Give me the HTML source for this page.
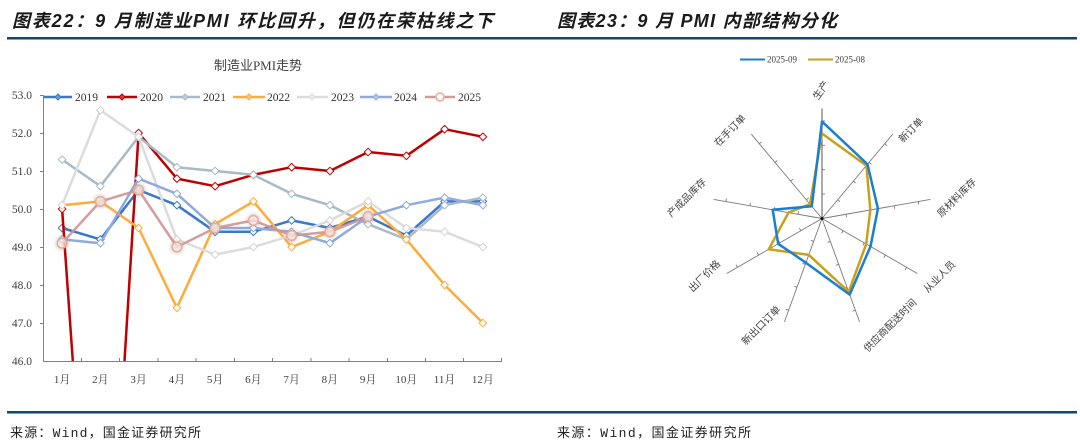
<!DOCTYPE html>
<html><head><meta charset="utf-8"><style>
html,body{margin:0;padding:0;background:#fff;width:1080px;height:446px;overflow:hidden;}
svg{display:block;overflow:hidden;}
</style></head><body>
<svg width="1080" height="446" viewBox="0 0 1080 446" xmlns="http://www.w3.org/2000/svg">
<defs>
<path id="dm" d="M0,-3.8 L3.8,0 L0,3.8 L-3.8,0Z"/>
<path id="dl" d="M0,-3 L3,0 L0,3 L-3,0Z"/>
<filter id="sh" x="-1" y="-1" width="3" height="3"><feGaussianBlur stdDeviation="2"/></filter>
</defs>
<rect width="1080" height="446" fill="#fff"/>

<!-- titles -->
<text x="12" y="27" font-family="Liberation Sans, Noto Sans CJK SC, sans-serif" font-size="18" font-weight="bold" font-style="italic" fill="#1a1a1a" textLength="481" lengthAdjust="spacing">图表22：9 月制造业PMI 环比回升，但仍在荣枯线之下</text>
<text x="557" y="27" font-family="Liberation Sans, Noto Sans CJK SC, sans-serif" font-size="18" font-weight="bold" font-style="italic" fill="#1a1a1a" textLength="280" lengthAdjust="spacing">图表23：9 月 PMI 内部结构分化</text>
<rect x="7" y="37" width="1070" height="2" fill="#0f4a70"/>
<rect x="7" y="39" width="1070" height="1" fill="#7aa2bf"/>

<rect x="7" y="411" width="1070" height="2" fill="#0f4a70"/>
<rect x="7" y="413" width="1070" height="1" fill="#7aa2bf"/>
<text x="10" y="437" font-family="Liberation Mono, Noto Sans CJK SC, sans-serif" font-size="13" fill="#222" textLength="191" lengthAdjust="spacing">来源：Wind，国金证券研究所</text>
<text x="557" y="437" font-family="Liberation Mono, Noto Sans CJK SC, sans-serif" font-size="13" fill="#222" textLength="194" lengthAdjust="spacing">来源：Wind，国金证券研究所</text>

<!-- left chart -->
<text x="258" y="70" text-anchor="middle" font-family="Liberation Serif, Noto Sans CJK SC, sans-serif" font-size="13" fill="#404040">制造业PMI走势</text>

<g font-family="Liberation Serif, serif" font-size="11.5" fill="#404040" text-anchor="end">
<text x="32" y="99">53.0</text>
<text x="32" y="137">52.0</text>
<text x="32" y="175">51.0</text>
<text x="32" y="213">50.0</text>
<text x="32" y="251">49.0</text>
<text x="32" y="289">48.0</text>
<text x="32" y="327">47.0</text>
<text x="32" y="365">46.0</text>
</g>
<g stroke="#808080" stroke-width="1" fill="none">
<line x1="43.5" y1="95" x2="43.5" y2="361"/>
<line x1="43" y1="361.5" x2="502" y2="361.5"/>
<path d="M40,95.5H43.5M40,133.5H43.5M40,171.5H43.5M40,209.5H43.5M40,247.5H43.5M40,285.5H43.5M40,323.5H43.5"/>
<path d="M81.5,358V361M119.5,358V361M158,358V361M196,358V361M234.5,358V361M272.5,358V361M311,358V361M349,358V361M387.5,358V361M425.5,358V361M463.5,358V361M501.5,358V361"/>
</g>
<g font-family="Liberation Serif, Noto Serif CJK SC, serif" font-size="11" fill="#404040" text-anchor="middle">
<text x="62.1" y="383">1月</text><text x="100.4" y="383">2月</text><text x="138.6" y="383">3月</text>
<text x="176.9" y="383">4月</text><text x="215.1" y="383">5月</text><text x="253.4" y="383">6月</text>
<text x="291.6" y="383">7月</text><text x="329.9" y="383">8月</text><text x="368.1" y="383">9月</text>
<text x="406.4" y="383">10月</text><text x="444.6" y="383">11月</text><text x="482.9" y="383">12月</text>
</g>

<!-- legend -->
<g stroke-width="2.5" fill="none">
<line x1="44" y1="97" x2="72" y2="97" stroke="#3a78c8"/>
<line x1="107" y1="97" x2="137" y2="97" stroke="#c00000"/>
<line x1="170" y1="97" x2="200" y2="97" stroke="#a7bac6"/>
<line x1="233" y1="97" x2="265" y2="97" stroke="#ffab3a"/>
<line x1="297" y1="97" x2="328" y2="97" stroke="#dcdcdc"/>
<line x1="360" y1="97" x2="392" y2="97" stroke="#8faadc"/>
<line x1="425" y1="97" x2="455" y2="97" stroke="#d39a9a"/>
</g>
<use href="#dl" x="58" y="97" fill="#6c9ad6" stroke="#3a78c8"/>
<use href="#dl" x="122" y="97" fill="#d84040" stroke="#c00000"/>
<use href="#dl" x="185" y="97" fill="#c3d0d8" stroke="#a7bac6"/>
<use href="#dl" x="249" y="97" fill="#ffc880" stroke="#ffab3a"/>
<use href="#dl" x="312" y="97" fill="#eee" stroke="#dcdcdc"/>
<use href="#dl" x="376" y="97" fill="#b7c9ea" stroke="#8faadc"/>
<circle cx="440" cy="97" r="4" fill="#fff" stroke="#f0a890" stroke-width="1.5"/>
<g font-family="Liberation Serif, serif" font-size="11.5" fill="#333">
<text x="75" y="101">2019</text><text x="140" y="101">2020</text><text x="203" y="101">2021</text>
<text x="267" y="101">2022</text><text x="331" y="101">2023</text><text x="394" y="101">2024</text>
<text x="458" y="101">2025</text>
</g>

<g fill="none" stroke-width="2.5" stroke-linejoin="round">
<!-- 2019 -->
<polyline stroke="#3a78c8" points="62.1,228 100.4,239.4 138.6,190 176.9,205.2 215.1,231.8 253.4,231.8 291.6,220.4 329.9,228 368.1,216.6 406.4,235.6 444.6,201.4 482.9,201.4"/>
<g stroke="#3a78c8" stroke-width="1" fill="#fff">
<use href="#dm" x="62.1" y="228"/><use href="#dm" x="100.4" y="239.4"/><use href="#dm" x="138.6" y="190"/><use href="#dm" x="176.9" y="205.2"/><use href="#dm" x="215.1" y="231.8"/><use href="#dm" x="253.4" y="231.8"/><use href="#dm" x="291.6" y="220.4"/><use href="#dm" x="329.9" y="228"/><use href="#dm" x="368.1" y="216.6"/><use href="#dm" x="406.4" y="235.6"/><use href="#dm" x="444.6" y="201.4"/><use href="#dm" x="482.9" y="201.4"/>
</g>
<!-- 2020 -->
<polyline stroke="#c00000" points="62.1,209 72.8,361"/>
<polyline stroke="#c00000" points="124.5,361 138.6,133 176.9,178.6 215.1,186.2 253.4,174.8 291.6,167.2 329.9,171 368.1,152 406.4,155.8 444.6,129.2 482.9,136.8"/>
<g stroke="#c00000" stroke-width="1" fill="#fff">
<use href="#dm" x="62.1" y="209"/><use href="#dm" x="138.6" y="133"/><use href="#dm" x="176.9" y="178.6"/><use href="#dm" x="215.1" y="186.2"/><use href="#dm" x="253.4" y="174.8"/><use href="#dm" x="291.6" y="167.2"/><use href="#dm" x="329.9" y="171"/><use href="#dm" x="368.1" y="152"/><use href="#dm" x="406.4" y="155.8"/><use href="#dm" x="444.6" y="129.2"/><use href="#dm" x="482.9" y="136.8"/>
</g>
<!-- 2021 -->
<polyline stroke="#a7bac6" points="62.1,159.6 100.4,186.2 138.6,136.8 176.9,167.2 215.1,171 253.4,174.8 291.6,193.8 329.9,205.2 368.1,224.2 406.4,239.4 444.6,205.2 482.9,197.6"/>
<g stroke="#a7bac6" stroke-width="1" fill="#fff">
<use href="#dm" x="62.1" y="159.6"/><use href="#dm" x="100.4" y="186.2"/><use href="#dm" x="138.6" y="136.8"/><use href="#dm" x="176.9" y="167.2"/><use href="#dm" x="215.1" y="171"/><use href="#dm" x="253.4" y="174.8"/><use href="#dm" x="291.6" y="193.8"/><use href="#dm" x="329.9" y="205.2"/><use href="#dm" x="368.1" y="224.2"/><use href="#dm" x="406.4" y="239.4"/><use href="#dm" x="444.6" y="205.2"/><use href="#dm" x="482.9" y="197.6"/>
</g>
<!-- 2022 -->
<polyline stroke="#ffab3a" points="62.1,205.2 100.4,201.4 138.6,228 176.9,307.8 215.1,224.2 253.4,201.4 291.6,247 329.9,231.8 368.1,205.2 406.4,239.4 444.6,285 482.9,323"/>
<g stroke="#ffab3a" stroke-width="1" fill="#fff">
<use href="#dm" x="62.1" y="205.2"/><use href="#dm" x="100.4" y="201.4"/><use href="#dm" x="138.6" y="228"/><use href="#dm" x="176.9" y="307.8"/><use href="#dm" x="215.1" y="224.2"/><use href="#dm" x="253.4" y="201.4"/><use href="#dm" x="291.6" y="247"/><use href="#dm" x="329.9" y="231.8"/><use href="#dm" x="368.1" y="205.2"/><use href="#dm" x="406.4" y="239.4"/><use href="#dm" x="444.6" y="285"/><use href="#dm" x="482.9" y="323"/>
</g>
<!-- 2023 -->
<polyline stroke="#dcdcdc" points="62.1,205.2 100.4,110.2 138.6,136.8 176.9,239.4 215.1,254.6 253.4,247 291.6,235.6 329.9,220.4 368.1,201.4 406.4,228 444.6,231.8 482.9,247"/>
<g stroke="#d4d4d4" stroke-width="1" fill="#fff">
<use href="#dm" x="62.1" y="205.2"/><use href="#dm" x="100.4" y="110.2"/><use href="#dm" x="138.6" y="136.8"/><use href="#dm" x="176.9" y="239.4"/><use href="#dm" x="215.1" y="254.6"/><use href="#dm" x="253.4" y="247"/><use href="#dm" x="291.6" y="235.6"/><use href="#dm" x="329.9" y="220.4"/><use href="#dm" x="368.1" y="201.4"/><use href="#dm" x="406.4" y="228"/><use href="#dm" x="444.6" y="231.8"/><use href="#dm" x="482.9" y="247"/>
</g>
<!-- 2024 -->
<polyline stroke="#8faadc" points="62.1,239.4 100.4,243.2 138.6,178.6 176.9,193.8 215.1,228 253.4,228 291.6,231.8 329.9,243.2 368.1,216.6 406.4,205.2 444.6,197.6 482.9,205.2"/>
<g stroke="#8faadc" stroke-width="1" fill="#fff">
<use href="#dm" x="62.1" y="239.4"/><use href="#dm" x="100.4" y="243.2"/><use href="#dm" x="138.6" y="178.6"/><use href="#dm" x="176.9" y="193.8"/><use href="#dm" x="215.1" y="228"/><use href="#dm" x="253.4" y="228"/><use href="#dm" x="291.6" y="231.8"/><use href="#dm" x="329.9" y="243.2"/><use href="#dm" x="368.1" y="216.6"/><use href="#dm" x="406.4" y="205.2"/><use href="#dm" x="444.6" y="197.6"/><use href="#dm" x="482.9" y="205.2"/>
</g>
<!-- 2025 -->
<g fill="#999" opacity="0.55" filter="url(#sh)">
<circle cx="62.1" cy="243.2" r="6"/><circle cx="100.4" cy="201.4" r="6"/><circle cx="138.6" cy="190" r="6"/><circle cx="176.9" cy="247" r="6"/><circle cx="215.1" cy="228" r="6"/><circle cx="253.4" cy="220.4" r="6"/><circle cx="291.6" cy="235.6" r="6"/><circle cx="329.9" cy="231.8" r="6"/><circle cx="368.1" cy="216.6" r="6"/>
</g>
<polyline stroke="#cf9494" stroke-opacity="0.9" points="62.1,243.2 100.4,201.4 138.6,190 176.9,247 215.1,228 253.4,220.4 291.6,235.6 329.9,231.8 368.1,216.6"/>
<g stroke="#f0a890" stroke-width="1.5" fill="#fff" fill-opacity="0.6">
<circle cx="62.1" cy="243.2" r="4.8"/><circle cx="100.4" cy="201.4" r="4.8"/><circle cx="138.6" cy="190" r="4.8"/><circle cx="176.9" cy="247" r="4.8"/><circle cx="215.1" cy="228" r="4.8"/><circle cx="253.4" cy="220.4" r="4.8"/><circle cx="291.6" cy="235.6" r="4.8"/><circle cx="329.9" cy="231.8" r="4.8"/><circle cx="368.1" cy="216.6" r="4.8"/>
</g>
</g>

<!-- radar chart -->
<line x1="740" y1="59.5" x2="765" y2="59.5" stroke="#1a7fd0" stroke-width="2"/>
<text x="767" y="62.5" font-family="Liberation Serif, serif" font-size="9" fill="#404040">2025-09</text>
<line x1="808" y1="59.5" x2="833" y2="59.5" stroke="#c9a01c" stroke-width="2"/>
<text x="835" y="62.5" font-family="Liberation Serif, serif" font-size="9" fill="#404040">2025-08</text>

<g stroke="#7a7a7a" stroke-width="0.9" fill="none">
<line x1="822" y1="218.5" x2="822" y2="108.5" stroke="#444"/>
<line x1="822" y1="218.5" x2="892.7" y2="134.2"/>
<line x1="822" y1="218.5" x2="930.3" y2="199.4"/>
<line x1="822" y1="218.5" x2="917.3" y2="273.5"/>
<line x1="822" y1="218.5" x2="859.6" y2="321.9"/>
<line x1="822" y1="218.5" x2="784.4" y2="321.9"/>
<line x1="822" y1="218.5" x2="726.7" y2="273.5"/>
<line x1="822" y1="218.5" x2="713.7" y2="199.4"/>
<line x1="822" y1="218.5" x2="751.3" y2="134.2"/>
</g>
<!-- ticks -->
<g stroke="#7a7a7a" stroke-width="0.9">
<g transform="translate(822,218.5) rotate(0)"><path d="M0,-24.4h3M0,-48.8h3M0,-73.2h3M0,-97.6h3"/></g>
<g transform="translate(822,218.5) rotate(40)"><path d="M0,-24.4h3M0,-48.8h3M0,-73.2h3M0,-97.6h3"/></g>
<g transform="translate(822,218.5) rotate(80)"><path d="M0,-24.4h3M0,-48.8h3M0,-73.2h3M0,-97.6h3"/></g>
<g transform="translate(822,218.5) rotate(120)"><path d="M0,-24.4h3M0,-48.8h3M0,-73.2h3M0,-97.6h3"/></g>
<g transform="translate(822,218.5) rotate(160)"><path d="M0,-24.4h3M0,-48.8h3M0,-73.2h3M0,-97.6h3"/></g>
<g transform="translate(822,218.5) rotate(200)"><path d="M0,-24.4h3M0,-48.8h3M0,-73.2h3M0,-97.6h3"/></g>
<g transform="translate(822,218.5) rotate(240)"><path d="M0,-24.4h3M0,-48.8h3M0,-73.2h3M0,-97.6h3"/></g>
<g transform="translate(822,218.5) rotate(280)"><path d="M0,-24.4h3M0,-48.8h3M0,-73.2h3M0,-97.6h3"/></g>
<g transform="translate(822,218.5) rotate(320)"><path d="M0,-24.4h3M0,-48.8h3M0,-73.2h3M0,-97.6h3"/></g>
</g>
<circle cx="822" cy="218.5" r="1.5" fill="#111"/>

<polygon fill="none" stroke="#c9a01c" stroke-width="2.5" stroke-linejoin="round" points="822,133.5 866.4,165.6 870.3,210 866.2,244 848.7,291.8 808.8,254.9 768.8,249.2 788.5,212.6 810,204.2"/>
<polygon fill="none" stroke="#1a7fd0" stroke-width="2.5" stroke-linejoin="round" points="822,121.5 867.5,164.3 877.9,208.6 870.5,246.5 849.7,294.6 805.9,262.7 778.2,243.8 772.7,209.8 811.8,206.3"/>

<g font-family="Liberation Sans, Noto Sans CJK SC, sans-serif" font-size="10" fill="#404040" text-anchor="middle" dominant-baseline="central">
<text transform="translate(821.7,90.7) rotate(-55)">生产</text>
<text transform="translate(911.7,130.7) rotate(-45)">新订单</text>
<text transform="translate(957.3,198.3) rotate(-45)">原材料库存</text>
<text transform="translate(940,277.3) rotate(-45)">从业人员</text>
<text transform="translate(890.7,326) rotate(-45)">供应商配送时间</text>
<text transform="translate(761.7,326) rotate(-45)">新出口订单</text>
<text transform="translate(705,276.7) rotate(-45)">出厂价格</text>
<text transform="translate(687.3,198.3) rotate(-45)">产成品库存</text>
<text transform="translate(730.7,131) rotate(-45)">在手订单</text>
</g>
</svg>
</body></html>
